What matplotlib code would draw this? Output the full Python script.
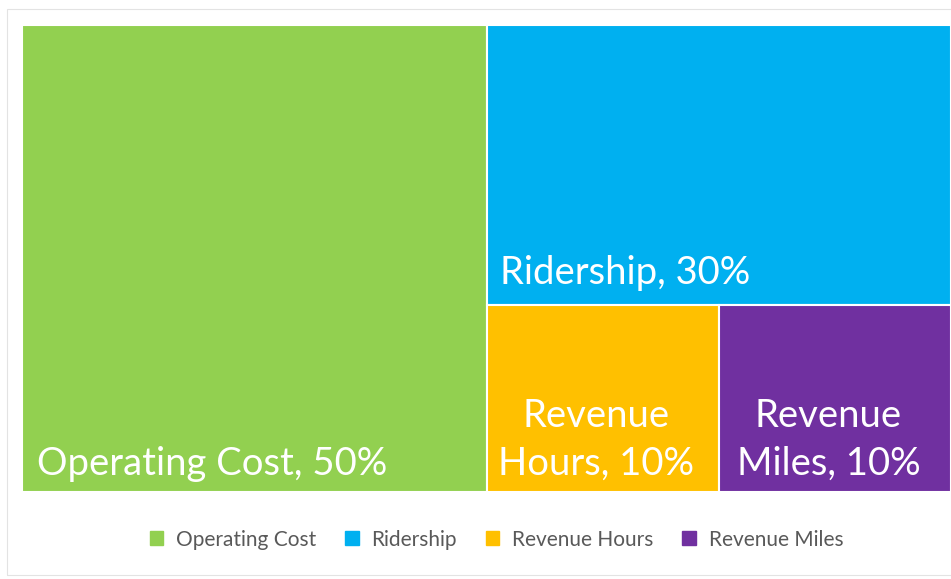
import matplotlib.pyplot as plt
from matplotlib.patches import Rectangle, Patch

plt.rcParams['font.family'] = ['Lato', 'DejaVu Sans']

# data
labels = ["Operating Cost", "Ridership", "Revenue Hours", "Revenue Miles"]
shares = [50, 30, 10, 10]
colors = ["#92D050", "#00B0F0", "#FFC000", "#7030A0"]
box_text = ["Operating Cost, 50%", "Ridership, 30%", "Revenue\nHours, 10%", "Revenue\nMiles, 10%"]

fig = plt.figure(figsize=(9.51, 5.79), dpi=100)
fig.patches.append(Rectangle((7 / 951, 4 / 579), 1.0, 566 / 579, transform=fig.transFigure,
                             fill=False, edgecolor="#e3e3e3", lw=0.8, zorder=-1))
ax = fig.add_axes([22 / 951, 87 / 579, 929 / 951, 467 / 579])
total = sum(shares)

# simple slice-and-dice layout: first item full height on the left,
# second fills the top of the rest, the last two share the bottom
w0 = shares[0] / total
rest = total - shares[0]
h1 = shares[1] / rest
bottom = shares[2] + shares[3]
w2 = (1 - w0) * shares[2] / bottom
rects = [
    (0, 0, w0, 1),
    (w0, 1 - h1, 1 - w0, h1),
    (w0, 0, w2, 1 - h1),
    (w0 + w2, 0, 1 - w0 - w2, 1 - h1),
]

for (x, y, w, h), c in zip(rects, colors):
    ax.add_patch(Rectangle((x, y), w, h, facecolor=c, edgecolor="white", lw=1.5))

tk = dict(color="white", fontsize=27.5)
x, y, w, h = rects[0]
ax.text(x + 0.016, y + 0.022, box_text[0], ha="left", va="bottom", **tk)
x, y, w, h = rects[1]
ax.text(x + 0.014, y + 0.03, box_text[1], ha="left", va="bottom", **tk)
for i in (2, 3):
    x, y, w, h = rects[i]
    ax.text(x + w / 2 - 0.007, y + 0.022, box_text[i], ha="center", va="bottom",
            linespacing=1.4, **tk)

ax.set_xlim(0, 1)
ax.set_ylim(0, 1)
ax.axis("off")

handles = [Patch(facecolor=c, edgecolor=c) for c in colors]
fig.legend(handles, labels, loc="center", bbox_to_anchor=(0.522, 0.068), ncol=4,
           frameon=False, fontsize=15, labelcolor="#595959",
           handlelength=0.65, handleheight=0.65, handletextpad=0.6, columnspacing=1.4)

fig.savefig("out.png", dpi=100)
